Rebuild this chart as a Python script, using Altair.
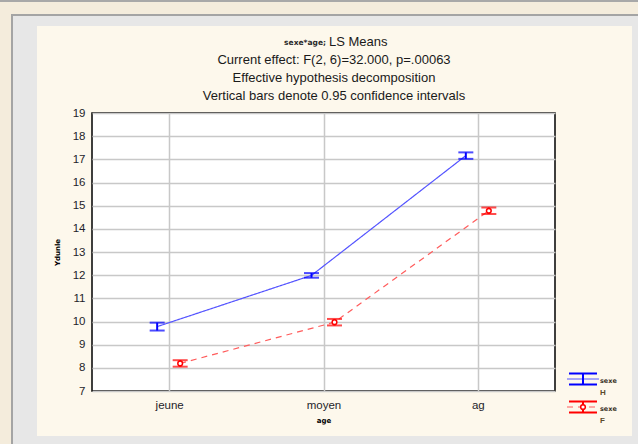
import altair as alt
import pandas as pd

# LS means of the response by age group, one series per sex, with 95% CI half-widths
age = ["jeune", "moyen", "ag"]
sexe = ["H", "F"]
means_H = [9.78, 11.99, 17.16]
ci_H = [0.17, 0.10, 0.14]
means_F = [8.19, 9.97, 14.78]
ci_F = [0.14, 0.14, 0.14]

title_lines = [
    "Current effect: F(2, 6)=32.000, p=.00063",
    "Effective hypothesis decomposition",
    "Vertical bars denote 0.95 confidence intervals",
]
y_ticks = list(range(7, 20))

FONT = "Liberation Sans"
W, H = 463, 278          # plot area
PAD_L, PAD_T = 92, 113   # plot origin inside the 638x444 canvas

rows = []
for s, m, c in (("H", means_H, ci_H), ("F", means_F, ci_F)):
    for a, v, e in zip(age, m, c):
        rows.append({"age": a, "sexe": s, "mean": v, "low": v - e, "high": v + e})
df = pd.DataFrame(rows)

style = {
    "H": {"line": "#5454ff", "bar": "#0000ff", "dash": [1, 0], "dx": -12},
    "F": {"line": "#ff5c5c", "bar": "#ff0000", "dash": [6, 5], "dx": 11},
}

x_enc = alt.X(
    "age:N",
    sort=age,
    scale=alt.Scale(type="point", padding=0.5),
    axis=alt.Axis(title="age", grid=True, ticks=False, domain=False,
                  labelAngle=0, labelPadding=8, titlePadding=6,
                  titleFontSize=7, titleFont="DejaVu Sans", titleFontWeight="bold",
                  labelFontSize=11.5, labelFont=FONT, labelColor="#1e1e2a",
                  gridColor="#c8c8c8", gridWidth=1.5),
)
y_scale = alt.Scale(domain=[7, 19], nice=False, zero=False)
y_axis = alt.Axis(title="Ydunle", values=y_ticks, tickCount=len(y_ticks), grid=True,
                  ticks=False, domain=False, labelOverlap=False, labelPadding=7,
                  titlePadding=12, titleFontSize=7, titleFont="DejaVu Sans",
                  titleFontWeight="bold", labelFontSize=11.5, labelFont=FONT,
                  labelColor="#1e1e2a", gridColor="#c8c8c8", gridWidth=1.5)


def y_enc(field):
    return alt.Y(f"{field}:Q", scale=y_scale, axis=y_axis)


one = pd.DataFrame({"k": [0]})


def box(x0, x1, y0, y1, color):
    """Flat rectangle in canvas pixels (window frame decoration)."""
    return alt.Chart(one).mark_rect(color=color, strokeWidth=0).encode(
        x=alt.value(x0 - PAD_L), x2=alt.value(x1 - PAD_L),
        y=alt.value(y0 - PAD_T), y2=alt.value(y1 - PAD_T),
    )


frame = [
    box(0, 37, 0, 444, "#e7e7e7"),
    box(0, 638, 0, 26, "#e7e7e7"),
    box(632, 638, 0, 444, "#e7e7e7"),
    box(0, 638, 436, 444, "#e7e7e7"),
    box(0, 11, 0, 444, "#f4ecdc"),
    box(0, 638, 0, 14, "#f4ecdc"),
    box(0, 638, 0, 2, "#a8a8a8"),
    box(11, 13, 14, 444, "#a4a4a4"),
    box(11, 638, 14, 16, "#a4a4a4"),
]

base = alt.Chart(df)
series_layers = []
for s in sexe:
    st = style[s]
    sub = base.transform_filter(alt.datum.sexe == s)
    series_layers.append(
        sub.mark_line(color=st["line"], strokeWidth=1.2, strokeDash=st["dash"],
                      xOffset=st["dx"]).encode(x=x_enc, y=y_enc("mean"))
    )
    series_layers.append(
        sub.mark_rule(color=st["bar"], strokeWidth=2, xOffset=st["dx"]).encode(
            x=x_enc, y=y_enc("low"), y2="high:Q")
    )
    for f in ("low", "high"):
        series_layers.append(
            sub.mark_tick(color=st["bar"], size=15, thickness=2, xOffset=st["dx"]).encode(
                x=x_enc, y=y_enc(f))
        )
    if s == "F":
        series_layers.append(
            sub.mark_point(shape="circle", size=22, filled=True, fill="white",
                           stroke=st["bar"], strokeWidth=1.5, opacity=1,
                           xOffset=st["dx"]).encode(x=x_enc, y=y_enc("mean"))
        )

# Title block
cx = 334 - PAD_L
title_layers = [
    alt.Chart(one).mark_text(text="sexe*age;", font="DejaVu Sans", fontSize=7.5,
                             fontWeight="bold", align="right", baseline="middle",
                             color="#2a2a2a").encode(x=alt.value(326 - PAD_L), y=alt.value(43 - PAD_T)),
    alt.Chart(one).mark_text(text="LS Means", font=FONT, fontSize=13, align="left",
                             baseline="middle", color="#1a1a1a").encode(
        x=alt.value(329 - PAD_L), y=alt.value(42 - PAD_T)),
]
for i, t in enumerate(title_lines):
    title_layers.append(
        alt.Chart(one).mark_text(text=t, font=FONT, fontSize=13, align="center",
                                 baseline="middle", color="#1a1a1a").encode(
            x=alt.value(cx), y=alt.value([60, 78, 96][i] - PAD_T))
    )

# Legend beside the plot, bottom right
legend_layers = []
for s, ymid in zip(sexe, (379, 407)):
    st = style[s]
    lx0, lx1 = 569 - PAD_L, 597 - PAD_L
    lc = (lx0 + lx1) / 2
    ym = ymid - PAD_T
    legend_layers += [
        alt.Chart(one).mark_rule(color=st["line"], strokeWidth=1.2, strokeDash=st["dash"]).encode(
            x=alt.value(lx0 - 2), x2=alt.value(lx1 + 2), y=alt.value(ym)),
        alt.Chart(one).mark_rule(color=st["bar"], strokeWidth=2).encode(
            x=alt.value(lx0), x2=alt.value(lx1), y=alt.value(ym - 5.5)),
        alt.Chart(one).mark_rule(color=st["bar"], strokeWidth=2).encode(
            x=alt.value(lx0), x2=alt.value(lx1), y=alt.value(ym + 5.5)),
        alt.Chart(one).mark_rule(color=st["bar"], strokeWidth=2).encode(
            x=alt.value(lc), y=alt.value(ym - 5.5), y2=alt.value(ym + 5.5)),
        alt.Chart(one).mark_text(text="sexe", font="DejaVu Sans", fontSize=6.5,
                                 fontWeight="bold", align="left", baseline="middle",
                                 color="#3a3226").encode(x=alt.value(600 - PAD_L), y=alt.value(ym + 2)),
        alt.Chart(one).mark_text(text=s, font=FONT, fontSize=8, fontWeight="bold",
                                 align="left", baseline="middle",
                                 color="#5a4a2a").encode(x=alt.value(600 - PAD_L), y=alt.value(ym + 14)),
    ]
    if s == "F":
        legend_layers.append(
            alt.Chart(one).mark_point(shape="circle", size=22, filled=True, fill="white",
                                      stroke=st["bar"], strokeWidth=1.5, opacity=1).encode(
                x=alt.value(lc), y=alt.value(ym))
        )

chart = alt.layer(*frame, *series_layers, *title_layers, *legend_layers).properties(
    width=W, height=H,
    autosize=alt.AutoSizeParams(type="none"),
    padding={"left": PAD_L, "top": PAD_T, "right": 638 - PAD_L - W, "bottom": 444 - PAD_T - H},
    background="#fdf8ec",
).configure_view(fill="white", stroke="#000000", strokeWidth=1.5)

chart.save("out.html", embed_options={"renderer": "svg", "actions": False})
